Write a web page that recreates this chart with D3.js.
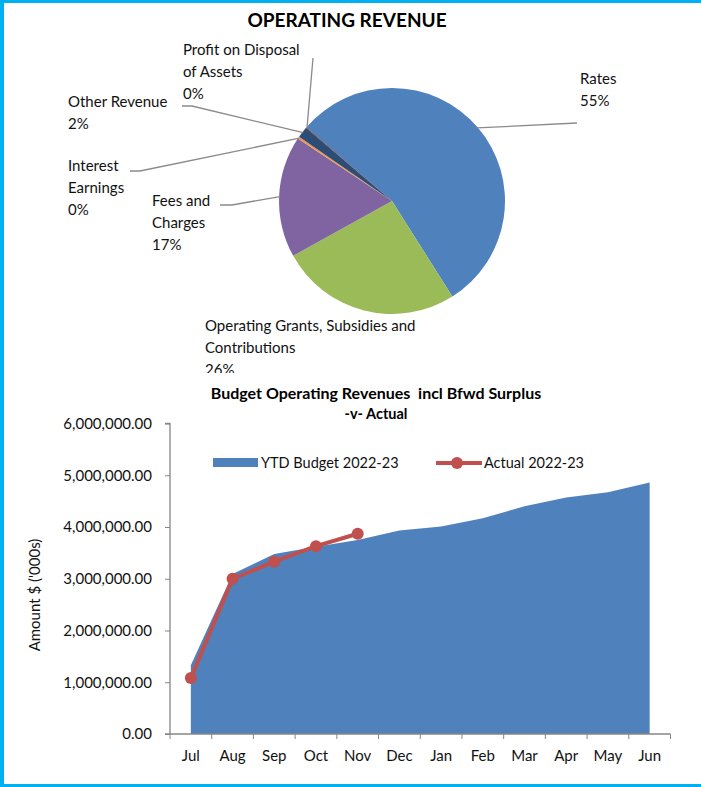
<!DOCTYPE html>
<html lang="en">
<head>
  <meta charset="UTF-8">
  <title>Operating Revenue</title>
  <script src="https://d3js.org/d3.v7.min.js"></script>
  <style>
    body { margin: 0; font-family: Lato, "Open Sans", sans-serif; }
    svg { display: block; }
  </style>
</head>
<body>
  <div id="chart"></div>

  <script>
    // pie data
    const pieLabels = ["Rates", "Operating Grants, Subsidies and Contributions", "Fees and Charges",
                       "Interest Earnings", "Other Revenue", "Profit on Disposal of Assets"];
    const pieValues = [54.7, 25.9, 17.4, 0.3, 1.6, 0.1];
    const pieColors = ["#4f81bd", "#9bbb59", "#8064a2", "#f79646", "#2c4d75", "#772c2a"];

    // budget vs actual
    const months = ["Jul", "Aug", "Sep", "Oct", "Nov", "Dec", "Jan", "Feb", "Mar", "Apr", "May", "Jun"];
    const ytdBudget = [1330000, 3090000, 3480000, 3620000, 3750000, 3930000, 4010000, 4170000, 4400000, 4570000, 4670000, 4860000];
    const actual = [1080000, 3000000, 3330000, 3630000, 3870000];
    const yTicks = [0, 1000000, 2000000, 3000000, 4000000, 5000000, 6000000];

    const W = 701, H = 787;
    const svg = d3.select("#chart").append("svg")
      .attr("width", W).attr("height", H);

    svg.append("rect").attr("width", W).attr("height", H).attr("fill", "#fff");

    // ---------- pie ----------
    svg.append("clipPath").attr("id", "topclip")
      .append("rect").attr("x", 0).attr("y", 0).attr("width", W).attr("height", 373);
    const pieArea = svg.append("g").attr("clip-path", "url(#topclip)");

    pieArea.append("text")
      .attr("x", 347).attr("y", 27)
      .attr("text-anchor", "middle")
      .style("font-size", "19px").style("font-weight", "bold")
      .text("OPERATING REVENUE");

    const cx = 392, cy = 201, r = 113;
    const pie = d3.pie().sort(null).value(d => d)
      .startAngle(-49.2 * Math.PI / 180)
      .endAngle((360 - 49.2) * Math.PI / 180);
    const arcs = pie(pieValues);
    const arc = d3.arc().innerRadius(0).outerRadius(r);

    const pg = pieArea.append("g").attr("transform", `translate(${cx},${cy})`);
    pg.selectAll("path").data(arcs).enter().append("path")
      .attr("d", arc)
      .attr("fill", (d, i) => pieColors[i]);

    // leader lines + labels (placement as in the original chart)
    const pct = v => Math.round(v) + "%";
    const labelSpec = [
      {i: 0, lines: ["Rates"], x: 580, y: 84, pts: [[0.75, 0.52], [577, 123]]},
      {i: 1, lines: ["Operating Grants, Subsidies and", "Contributions"], x: 205, y: 331, pts: null},
      {i: 2, lines: ["Fees and", "Charges"], x: 152, y: 206, pts: [[0.5], [232, 205], [220, 205]]},
      {i: 3, lines: ["Interest", "Earnings"], x: 68, y: 171, pts: [[0.5], [140, 171], [130, 171]]},
      {i: 4, lines: ["Other Revenue"], x: 68, y: 107, pts: [[0.5], [192, 106], [182, 106]]},
      {i: 5, lines: ["Profit on Disposal", "of Assets"], x: 183, y: 55, pts: [[0.5], [313, 58]]}
    ];

    labelSpec.forEach(s => {
      if (s.pts) {
        const a = arcs[s.i];
        const mid = (a.startAngle + a.endAngle) / 2;
        const start = [cx + Math.sin(mid) * (r - 1), cy - Math.cos(mid) * (r - 1)];
        const pts = [start].concat(s.pts.slice(1));
        pieArea.append("path")
          .attr("d", d3.line()(pts))
          .attr("fill", "none").attr("stroke", "#8a8a8a").attr("stroke-width", 1.3);
      }
      const t = pieArea.append("text")
        .attr("x", s.x).attr("y", s.y)
        .style("font-size", "15px").attr("fill", "#111");
      s.lines.concat([pct(pieValues[s.i])]).forEach((ln, k) => {
        t.append("tspan").attr("x", s.x).attr("dy", k === 0 ? 0 : 22).text(ln);
      });
    });

    // ---------- area / line chart ----------
    const x0 = 170, x1 = 670.5, yTop = 423.5, yBot = 734;
    const x = d3.scaleBand().domain(months).range([x0, x1]);
    const xc = m => x(m) + x.bandwidth() / 2;
    const y = d3.scaleLinear().domain([0, 6000000]).range([yBot, yTop]);

    const g = svg.append("g");

    g.append("text")
      .attr("x", 376).attr("y", 399)
      .attr("text-anchor", "middle")
      .style("font-size", "16px").style("font-weight", "bold")
      .style("white-space", "pre")
      .text("Budget Operating Revenues  incl Bfwd Surplus");
    g.append("text")
      .attr("x", 376).attr("y", 419)
      .attr("text-anchor", "middle")
      .style("font-size", "14.5px").style("font-weight", "bold")
      .text("-v- Actual");

    const area = d3.area()
      .x((d, i) => xc(months[i]))
      .y0(y(0))
      .y1(d => y(d));
    g.append("path").datum(ytdBudget)
      .attr("d", area).attr("fill", "#4f81bd");

    const line = d3.line()
      .x((d, i) => xc(months[i]))
      .y(d => y(d));
    g.append("path").datum(actual)
      .attr("d", line).attr("fill", "none")
      .attr("stroke", "#c0504d").attr("stroke-width", 4)
      .attr("stroke-linejoin", "round");
    g.selectAll(".pt").data(actual).enter().append("circle")
      .attr("class", "pt")
      .attr("cx", (d, i) => xc(months[i]))
      .attr("cy", d => y(d))
      .attr("r", 6).attr("fill", "#c0504d");

    // y axis
    const yAxis = g.append("g")
      .attr("transform", `translate(${x0},0)`)
      .call(d3.axisLeft(y).tickValues(yTicks).tickSize(5).tickPadding(13)
        .tickFormat(d3.format(",.2f")));
    // x axis
    const xAxis = g.append("g")
      .attr("transform", `translate(0,${yBot})`)
      .call(d3.axisBottom(x).tickSize(0).tickPadding(16));
    xAxis.selectAll(".xt").data(months.concat(["end"])).enter().append("line")
      .attr("class", "xt")
      .attr("x1", (d, i) => x0 + i * x.bandwidth())
      .attr("x2", (d, i) => x0 + i * x.bandwidth())
      .attr("y1", 0).attr("y2", 5)
      .attr("stroke", "#868686");

    [yAxis, xAxis].forEach(ax => {
      ax.select(".domain").attr("stroke", "#868686").attr("stroke-width", 1.3);
      ax.selectAll(".tick line").attr("stroke", "#868686");
      ax.selectAll("text").style("font-size", "15px")
        .style("font-family", "Lato, 'Open Sans', sans-serif").attr("fill", "#111");
    });
    yAxis.select(".domain").attr("d", `M-5,${yTop}H0V${yBot}H-5`);
    xAxis.select(".domain").attr("d", `M${x0},0H${x1}`);

    g.append("text")
      .attr("transform", `translate(40,595) rotate(-90)`)
      .attr("text-anchor", "middle")
      .style("font-size", "15px").attr("fill", "#111")
      .text("Amount $ ('000s)");

    // legend
    const lg = g.append("g");
    lg.append("rect").attr("x", 213).attr("y", 458).attr("width", 45).attr("height", 9)
      .attr("fill", "#4f81bd");
    lg.append("text").attr("x", 261).attr("y", 468).style("font-size", "14.5px")
      .attr("fill", "#111").text("YTD Budget 2022-23");
    lg.append("line").attr("x1", 436).attr("x2", 482).attr("y1", 463).attr("y2", 463)
      .attr("stroke", "#c0504d").attr("stroke-width", 4);
    lg.append("circle").attr("cx", 457).attr("cy", 463).attr("r", 6).attr("fill", "#c0504d");
    lg.append("text").attr("x", 484).attr("y", 468).style("font-size", "14.5px")
      .attr("fill", "#111").text("Actual 2022-23");

    // frame (left, top, bottom)
    svg.append("rect").attr("x", 0).attr("y", 0).attr("width", W).attr("height", 3).attr("fill", "#00b0f0");
    svg.append("rect").attr("x", 0).attr("y", 0).attr("width", 4).attr("height", H).attr("fill", "#00b0f0");
    svg.append("rect").attr("x", 0).attr("y", H - 3).attr("width", W).attr("height", 3).attr("fill", "#00b0f0");
  </script>
</body>
</html>
